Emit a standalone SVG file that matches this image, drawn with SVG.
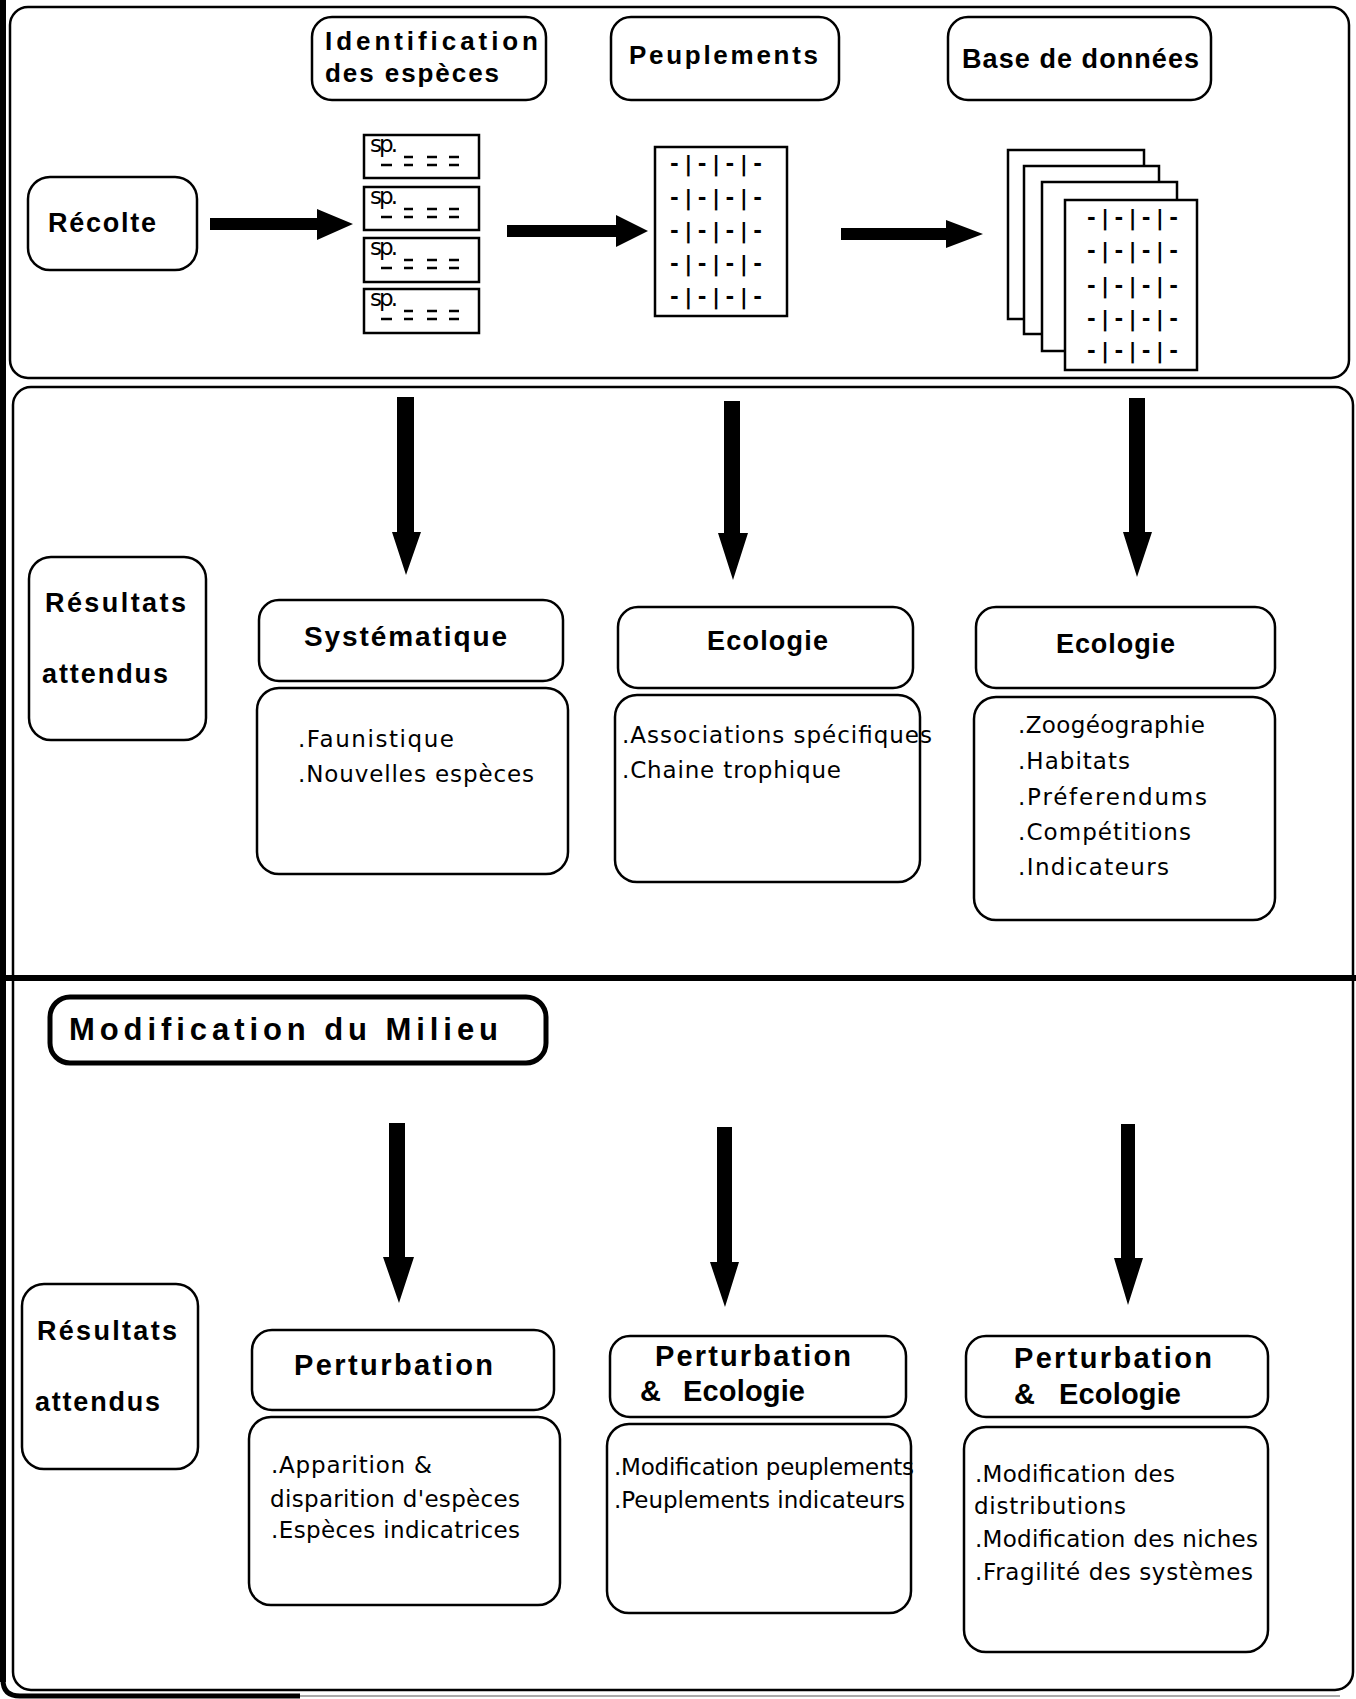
<svg xmlns="http://www.w3.org/2000/svg" width="1356" height="1699" viewBox="0 0 1356 1699">
<style>
.bg{fill:#fff}
.box{fill:#fff;stroke:#000;stroke-width:2.5}
.thin{fill:#fff;stroke:#000;stroke-width:2.5}
.hd{font-family:"Liberation Sans",Arial,sans-serif;font-weight:bold;fill:#000}
.tx{font-family:"DejaVu Sans","Liberation Sans",sans-serif;font-size:23px;fill:#000}
.tb{font-family:"DejaVu Sans",sans-serif;font-weight:bold;font-size:21px;fill:#000}
.dash{stroke:#000;stroke-width:2.5}
.arrow{fill:#000}
</style>
<rect class="bg" x="0" y="0" width="1356" height="1699"/>

<g id="frame">
  <rect x="0" y="0" width="6" height="1682" fill="#000"/>
  <path d="M3,1680 Q3,1696 20,1696 L300,1696" fill="none" stroke="#000" stroke-width="5"/>
  <line x1="300" y1="1696" x2="1340" y2="1696" stroke="#aaa" stroke-width="2"/>
  <rect x="10" y="7" width="1339" height="371" rx="18" fill="none" stroke="#000" stroke-width="2.5"/>
  <rect x="13" y="387" width="1340" height="1303" rx="18" fill="none" stroke="#000" stroke-width="2.5"/>
  <line x1="6" y1="978" x2="1356" y2="978" stroke="#000" stroke-width="6"/>
</g>

<g id="identification">
  <rect class="box" x="312" y="17" width="234" height="83" rx="20"/>
  <text class="hd" font-size="26" x="325" y="50" textLength="213">Identification</text>
  <text class="hd" font-size="26" x="325" y="82" textLength="174">des espèces</text>
</g>
<g id="peuplements">
  <rect class="box" x="611" y="17" width="228" height="83" rx="20"/>
  <text class="hd" font-size="26" x="629" y="64" textLength="189">Peuplements</text>
</g>
<g id="base">
  <rect class="box" x="948" y="17" width="263" height="83" rx="20"/>
  <text class="hd" font-size="27" x="962" y="68" textLength="237">Base de données</text>
</g>
<g id="recolte">
  <rect class="box" x="28" y="177" width="169" height="93" rx="22"/>
  <text class="hd" font-size="27" x="48" y="232" textLength="108">Récolte</text>
</g>

<g id="cards">
  <g id="card1">
    <rect class="thin" x="364" y="135" width="115" height="43"/>
    <text class="tx" font-size="19" x="370" y="152" textLength="28">sp.</text>
    <path class="dash" d="M404,157h9M427,157h10M449,157h10M381,165h11M404,165h9M427,165h10M449,165h10"/>
  </g>
  <g id="card2">
    <rect class="thin" x="364" y="187" width="115" height="43"/>
    <text class="tx" font-size="19" x="370" y="204" textLength="28">sp.</text>
    <path class="dash" d="M404,209h9M427,209h10M449,209h10M381,217h11M404,217h9M427,217h10M449,217h10"/>
  </g>
  <g id="card3">
    <rect class="thin" x="364" y="238" width="115" height="44"/>
    <text class="tx" font-size="19" x="370" y="255" textLength="28">sp.</text>
    <path class="dash" d="M404,260h9M427,260h10M449,260h10M381,268h11M404,268h9M427,268h10M449,268h10"/>
  </g>
  <g id="card4">
    <rect class="thin" x="364" y="289" width="115" height="44"/>
    <text class="tx" font-size="19" x="370" y="306" textLength="28">sp.</text>
    <path class="dash" d="M404,311h9M427,311h10M449,311h10M381,319h11M404,319h9M427,319h10M449,319h10"/>
  </g>
</g>

<g id="table">
  <rect class="thin" x="655" y="147" width="132" height="169"/>
  <text class="tb" x="670" y="171" textLength="92">-|-|-|-</text>
  <text class="tb" x="670" y="205" textLength="92">-|-|-|-</text>
  <text class="tb" x="670" y="238" textLength="92">-|-|-|-</text>
  <text class="tb" x="670" y="271" textLength="92">-|-|-|-</text>
  <text class="tb" x="670" y="304" textLength="92">-|-|-|-</text>
</g>

<g id="sheets">
  <rect class="thin" x="1008" y="150" width="136" height="169"/>
  <rect class="thin" x="1024" y="166" width="135" height="168"/>
  <rect class="thin" x="1042" y="182" width="135" height="169"/>
  <rect class="thin" x="1065" y="200" width="132" height="170"/>
  <text class="tb" x="1087" y="225" textLength="91">-|-|-|-</text>
  <text class="tb" x="1087" y="258" textLength="91">-|-|-|-</text>
  <text class="tb" x="1087" y="293" textLength="91">-|-|-|-</text>
  <text class="tb" x="1087" y="326" textLength="91">-|-|-|-</text>
  <text class="tb" x="1087" y="358" textLength="91">-|-|-|-</text>
</g>

<g id="connectors">
  <polygon class="arrow" points="210,218 317,218 317,209 353,224 317,240 317,230 210,230"/>
  <polygon class="arrow" points="507,225 616,225 616,215 648,231 616,247 616,237 507,237"/>
  <polygon class="arrow" points="841,228 946,228 946,220 983,234 946,248 946,240 841,240"/>
  <polygon class="arrow" points="397,397 414,397 414,532 421,532 406,575 392,532 397,532"/>
  <polygon class="arrow" points="724,401 740,401 740,533 748,533 733,580 718,533 724,533"/>
  <polygon class="arrow" points="1129,398 1145,398 1145,532 1152,532 1137,577 1123,532 1129,532"/>
  <polygon class="arrow" points="389,1123 405,1123 405,1257 414,1257 399,1303 383,1257 389,1257"/>
  <polygon class="arrow" points="717,1127 732,1127 732,1262 739,1262 725,1307 710,1262 717,1262"/>
  <polygon class="arrow" points="1121,1124 1135,1124 1135,1258 1143,1258 1128,1305 1114,1258 1121,1258"/>
</g>

<g id="resultats1">
  <rect class="box" x="29" y="557" width="177" height="183" rx="22"/>
  <text class="hd" font-size="27" x="45" y="612" textLength="141">Résultats</text>
  <text class="hd" font-size="27" x="42" y="683" textLength="126">attendus</text>
</g>
<g id="systematique">
  <rect class="box" x="259" y="600" width="304" height="81" rx="20"/>
  <text class="hd" font-size="28" x="304" y="646" textLength="203">Systématique</text>
</g>
<g id="systematique-list">
  <rect class="box" x="257" y="688" width="311" height="186" rx="22"/>
  <text class="tx" x="298" y="747" textLength="156">.Faunistique</text>
  <text class="tx" x="298" y="782" textLength="236">.Nouvelles espèces</text>
</g>
<g id="ecologie1">
  <rect class="box" x="618" y="607" width="295" height="81" rx="20"/>
  <text class="hd" font-size="27" x="707" y="650" textLength="121">Ecologie</text>
</g>
<g id="ecologie1-list">
  <rect class="box" x="615" y="695" width="305" height="187" rx="22"/>
  <text class="tx" x="622" y="743" textLength="310">.Associations spécifiques</text>
  <text class="tx" x="622" y="778" textLength="219">.Chaine trophique</text>
</g>
<g id="ecologie2">
  <rect class="box" x="976" y="607" width="299" height="81" rx="20"/>
  <text class="hd" font-size="27" x="1056" y="653" textLength="119">Ecologie</text>
</g>
<g id="ecologie2-list">
  <rect class="box" x="974" y="697" width="301" height="223" rx="22"/>
  <text class="tx" x="1018" y="733" textLength="187">.Zoogéographie</text>
  <text class="tx" x="1018" y="769" textLength="112">.Habitats</text>
  <text class="tx" x="1018" y="805" textLength="189">.Préferendums</text>
  <text class="tx" x="1018" y="840" textLength="173">.Compétitions</text>
  <text class="tx" x="1018" y="875" textLength="151">.Indicateurs</text>
</g>

<g id="modification">
  <rect x="50" y="997" width="496" height="66" rx="20" fill="#fff" stroke="#000" stroke-width="5"/>
  <text class="hd" font-size="31" x="69" y="1040" textLength="429">Modification du Milieu</text>
</g>
<g id="resultats2">
  <rect class="box" x="22" y="1284" width="176" height="185" rx="22"/>
  <text class="hd" font-size="27" x="37" y="1340" textLength="140">Résultats</text>
  <text class="hd" font-size="27" x="35" y="1411" textLength="125">attendus</text>
</g>
<g id="perturbation1">
  <rect class="box" x="252" y="1330" width="302" height="80" rx="20"/>
  <text class="hd" font-size="29" x="294" y="1375" textLength="199">Perturbation</text>
</g>
<g id="perturbation1-list">
  <rect class="box" x="249" y="1417" width="311" height="188" rx="22"/>
  <text class="tx" x="271" y="1473" textLength="161">.Apparition &amp;</text>
  <text class="tx" x="270" y="1507" textLength="250">disparition d'espèces</text>
  <text class="tx" x="271" y="1538" textLength="249">.Espèces indicatrices</text>
</g>
<g id="perturbation2">
  <rect class="box" x="610" y="1336" width="296" height="81" rx="20"/>
  <text class="hd" font-size="29" x="655" y="1366" textLength="196">Perturbation</text>
  <text class="hd" font-size="29" y="1401"><tspan x="640">&amp;</tspan><tspan x="683" textLength="122">Ecologie</tspan></text>
</g>
<g id="perturbation2-list">
  <rect class="box" x="607" y="1424" width="304" height="189" rx="22"/>
  <text class="tx" x="614" y="1475" textLength="300">.Modification peuplements</text>
  <text class="tx" x="614" y="1508" textLength="291">.Peuplements indicateurs</text>
</g>
<g id="perturbation3">
  <rect class="box" x="966" y="1336" width="302" height="81" rx="20"/>
  <text class="hd" font-size="29" x="1014" y="1368" textLength="198">Perturbation</text>
  <text class="hd" font-size="29" y="1404"><tspan x="1014">&amp;</tspan><tspan x="1059" textLength="122">Ecologie</tspan></text>
</g>
<g id="perturbation3-list">
  <rect class="box" x="964" y="1427" width="304" height="225" rx="22"/>
  <text class="tx" x="975" y="1482" textLength="200">.Modification des</text>
  <text class="tx" x="974" y="1514" textLength="152">distributions</text>
  <text class="tx" x="975" y="1547" textLength="283">.Modification des niches</text>
  <text class="tx" x="975" y="1580" textLength="278">.Fragilité des systèmes</text>
</g>
</svg>
